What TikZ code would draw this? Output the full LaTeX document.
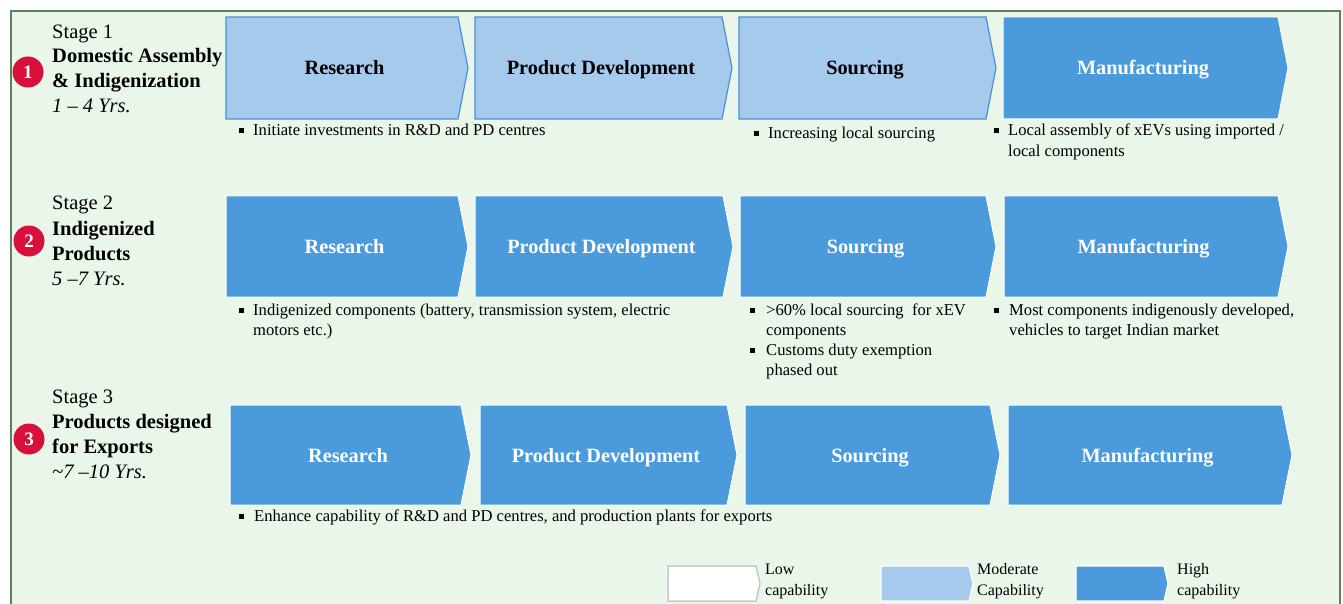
\documentclass[tikz,border=0pt]{standalone}
\usepackage{fontspec}
\setmainfont{Liberation Serif}
\definecolor{bggreen}{RGB}{233,246,233}
\definecolor{framegreen}{RGB}{88,132,88}
\definecolor{modblue}{RGB}{166,202,236}
\definecolor{modedge}{RGB}{74,144,217}
\definecolor{highblue}{RGB}{74,154,220}
\definecolor{lowedge}{RGB}{200,200,200}
\definecolor{stagered}{RGB}{216,16,60}
\tikzset{
  frame/.style={draw=framegreen,line width=2pt,fill=bggreen},
  mod/.style={fill=modblue,draw=modedge,line width=1.2pt},
  high/.style={fill=highblue,draw=white,line width=1pt},
  legmod/.style={fill=modblue,draw=white,line width=1.2pt},
  leghigh/.style={fill=highblue,draw=white,line width=1.2pt},
  leglow/.style={fill=white,draw=lowedge,line width=1.5pt},
  boxlbl/.style={font=\fontsize{20.3}{24}\selectfont\bfseries,inner sep=0pt,text height=14pt,text depth=0pt},
  modlbl/.style={boxlbl,text=black},
  highlbl/.style={boxlbl,text=white},
  legmodlbl/.style={inner sep=0pt},
  leghighlbl/.style={inner sep=0pt},
  leglowlbl/.style={inner sep=0pt},
  circ/.style={circle,fill=stagered,text=white,minimum size=31pt,inner sep=0pt,font=\fontsize{19}{20}\selectfont\bfseries},
  stg/.style={anchor=base west,inner sep=0pt,font=\fontsize{20.5}{24}\selectfont},
  stgb/.style={stg,font=\fontsize{20.5}{24}\selectfont\bfseries},
  stgi/.style={stg,font=\fontsize{20.5}{24}\selectfont\itshape},
  btxt/.style={anchor=base west,inner sep=0pt,font=\fontsize{16.6}{19}\selectfont},
  bsq/.style={fill=black,minimum size=5pt,inner sep=0pt,draw=none},
  legtxt/.style={anchor=base west,inner sep=0pt,font=\fontsize{16}{19}\selectfont},
}
% #1 style, #2 name, #3 left x, #4 tip x, #5 top y, #6 bottom y, #7 tip depth, #8 label
\newcommand\chev[8]{%
  \path[#1] (#3,#5) -- ({#4-#7},#5) -- (#4,{(#5+#6)/2}) -- ({#4-#7},#6) -- (#3,#6) -- cycle;
  \node[#1lbl] (#2) at ({(#3+#4-#7/2)/2},{(#5+#6)/2}) {#8};%
}
\begin{document}
\begin{tikzpicture}[x=1pt,y=-1pt]
\useasboundingbox (0,0) rectangle (1343,604);
\fill[white] (0,0) rectangle (1343,604);
\path[frame] (11,11) rectangle (1340,612);

% ---------------- Stage 1 ----------------
\node[circ] (c1) at (28,72) {1};
\node[stg]  (s1a) at (52,39)  {Stage 1};
\node[stgb] (s1b) at (52,63)  {Domestic Assembly};
\node[stgb] (s1c) at (52,88)  {\& Indigenization};
\node[stgi] (s1d) at (52,113) {1 -- 4 Yrs.};

\chev{mod}{r1}{226}{468}{17}{119}{10}{Research}
\chev{mod}{p1}{475}{732}{17}{119}{10}{Product Development}
\chev{mod}{so1}{739}{996}{17}{119}{10}{Sourcing}
\chev{high}{m1}{1003}{1288}{17}{119}{10}{Manufacturing}

\node[bsq] (b11) at (241.5,131) {};
\node[btxt] (t11) at (253,136) {Initiate investments in R\&D and PD centres};
\node[bsq] (b12) at (756.5,134) {};
\node[btxt] (t12) at (768,139) {Increasing local sourcing};
\node[bsq] (b13) at (996.5,131) {};
\node[btxt] (t13a) at (1008,136) {Local assembly of xEVs using imported /};
\node[btxt] (t13b) at (1008,157) {local components};

% ---------------- Stage 2 ----------------
\node[circ] (c2) at (29,241) {2};
\node[stg]  (s2a) at (52,210) {Stage 2};
\node[stgb] (s2b) at (52,235) {Indigenized};
\node[stgb] (s2c) at (52,260) {Products};
\node[stgi] (s2d) at (52,285) {5 --7 Yrs.};

\chev{high}{r2}{226}{468}{196}{297}{10}{Research}
\chev{high}{p2}{475}{733}{196}{297}{10}{Product Development}
\chev{high}{so2}{740}{996}{196}{297}{10}{Sourcing}
\chev{high}{m2}{1004}{1288}{196}{297}{10}{Manufacturing}

\node[bsq] (b21) at (241.5,310) {};
\node[btxt] (t21a) at (253,315) {Indigenized components (battery, transmission system, electric};
\node[btxt] (t21b) at (253,335) {motors etc.)};
\node[bsq] (b22) at (752.5,310) {};
\node[btxt] (t22a) at (766,315) {>60\% local sourcing \ for xEV};
\node[btxt] (t22b) at (766,335) {components};
\node[bsq] (b23) at (752.5,350) {};
\node[btxt] (t23a) at (766,355) {Customs duty exemption};
\node[btxt] (t23b) at (766,375) {phased out};
\node[bsq] (b24) at (996.5,310) {};
\node[btxt] (t24a) at (1009,315) {Most components indigenously developed,};
\node[btxt] (t24b) at (1009,335) {vehicles to target Indian market};

% ---------------- Stage 3 ----------------
\node[circ] (c3) at (29,439) {3};
\node[stg]  (s3a) at (52,403) {Stage 3};
\node[stgb] (s3b) at (52,428) {Products designed};
\node[stgb] (s3c) at (52,453) {for Exports};
\node[stgi] (s3d) at (52,478) {\textasciitilde7 --10 Yrs.};

\chev{high}{r3}{230}{471}{405}{505}{10}{Research}
\chev{high}{p3}{480}{737}{405}{505}{10}{Product Development}
\chev{high}{so3}{745}{1000}{405}{505}{10}{Sourcing}
\chev{high}{m3}{1008}{1292}{405}{505}{10}{Manufacturing}

\node[bsq] (b31) at (241.5,516) {};
\node[btxt] (t31) at (254,521) {Enhance capability of R\&D and PD centres, and production plants for exports};

% ---------------- Legend ----------------
\chev{leglow}{lg1}{668}{760}{566}{601}{4}{}
\node[legtxt] (lt1a) at (765,574) {Low};
\node[legtxt] (lt1b) at (765,595) {capability};
\chev{legmod}{lg2}{881}{973}{566}{601}{4}{}
\node[legtxt] (lt2a) at (977,574) {Moderate};
\node[legtxt] (lt2b) at (977,595) {Capability};
\chev{leghigh}{lg3}{1076}{1168}{566}{601}{4}{}
\node[legtxt] (lt3a) at (1177,574) {High};
\node[legtxt] (lt3b) at (1177,595) {capability};
\end{tikzpicture}
\end{document}
